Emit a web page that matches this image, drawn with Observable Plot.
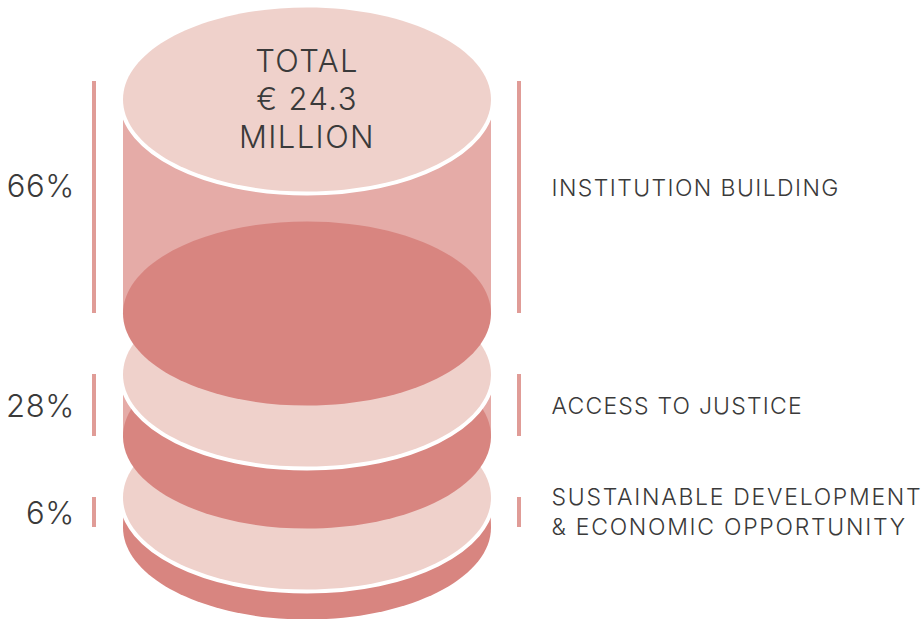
<!DOCTYPE html>
<html>
<head>
<meta charset="utf-8">
<style>
html,body{margin:0;padding:0;background:#fff;overflow:hidden}
svg text{letter-spacing:0.02em}
</style>
<script src="https://cdn.jsdelivr.net/npm/d3@7"></script>
<script src="https://cdn.jsdelivr.net/npm/@observablehq/plot@0.6"></script>
</head>
<body>
<div id="chart"></div>
<script>
const shares = ["66%", "28%", "6%"];
const categories = ["INSTITUTION BUILDING", "ACCESS TO JUSTICE", "SUSTAINABLE DEVELOPMENT\n& ECONOMIC OPPORTUNITY"];
const discTop = [99, 374, 497];
const discBottom = [313, 436, 527];
const bracketTop = [81, 374, 497];
const bracketBottom = [313, 436, 527];
const shareY = [187, 407, 514];
const labelY = [185.5, 403.5, 510];
const labelTracking = ["1.4px", "1.2px", "1.72px"];
const totalLabel = "TOTAL\n€ 24.3\nMILLION";

const LIGHT = "#efd1cb", MID = "#e5aba7", DARK = "#d88580", BAR = "#e09c97", INK = "#3a3a3a";
const FONT = "Inter, 'Open Sans', sans-serif";
const cx = 306.5, rx = 184;

// Flattened 2:1 disc as a dot symbol, so discs are placed by the x and y scales
const k = 0.5522847;
const disc = {
  draw(c, size) {
    const a = Math.sqrt(size / Math.PI), b = a / 2;
    c.moveTo(-a, 0);
    c.bezierCurveTo(-a, -k * b, -k * a, -b, 0, -b);
    c.bezierCurveTo(k * a, -b, a, -k * b, a, 0);
    c.bezierCurveTo(a, k * b, k * a, b, 0, b);
    c.bezierCurveTo(-k * a, b, -a, k * b, -a, 0);
    c.closePath();
  }
};

const segments = shares.map((s, i) => i);
const layers = segments.slice().reverse().flatMap((i) => [
  Plot.rect([i], {x1: cx - rx + 0.5, x2: cx + rx + 0.5, y1: (d) => discTop[d], y2: (d) => discBottom[d], fill: MID}),
  Plot.dot([i], {x: cx, y: (d) => discBottom[d], r: rx, symbol: disc, fill: DARK, stroke: "none"}),
  Plot.dot([i], {x: cx, y: (d) => discTop[d], r: rx, symbol: disc, fill: LIGHT, stroke: "#fff", strokeWidth: 8, paintOrder: "stroke"})
]);

const plot = Plot.plot({
  width: 923,
  height: 619,
  margin: 0,
  x: {domain: [0, 923], range: [0, 923], axis: null},
  y: {domain: [0, 619], range: [0, 619], axis: null},
  style: {background: "#fff", overflow: "hidden"},
  marks: [
    ...layers,
    Plot.ruleX(segments, {x: 93.5, y1: (i) => bracketTop[i], y2: (i) => bracketBottom[i], stroke: BAR, strokeWidth: 4}),
    Plot.ruleX(segments, {x: 518.5, y1: (i) => bracketTop[i], y2: (i) => bracketBottom[i], stroke: BAR, strokeWidth: 4}),
    Plot.text(segments, {x: 74.5, y: (i) => shareY[i], text: (i) => shares[i], textAnchor: "end", fill: INK, fontSize: 31, fontWeight: 300, fontFamily: FONT}),
    Plot.text(segments, {x: 551, y: (i) => labelY[i], text: (i) => categories[i], textAnchor: "start", fill: INK, fontSize: 23, fontWeight: 300, fontFamily: FONT, lineHeight: 1.3}),
    Plot.text([totalLabel], {x: cx, y: 97, text: (d) => d, textAnchor: "middle", fill: INK, fontSize: 31, fontWeight: 300, fontFamily: FONT, lineHeight: 1.23})
  ]
});
const textGroups = plot.querySelectorAll('g[aria-label="text"]');
d3.select(textGroups[1]).selectAll("text").each(function (d, i) {
  this.style.letterSpacing = labelTracking[i];
});
d3.select(textGroups[2]).selectAll("text").style("letter-spacing", "1.4px");
document.getElementById("chart").appendChild(plot);
</script>
</body>
</html>
